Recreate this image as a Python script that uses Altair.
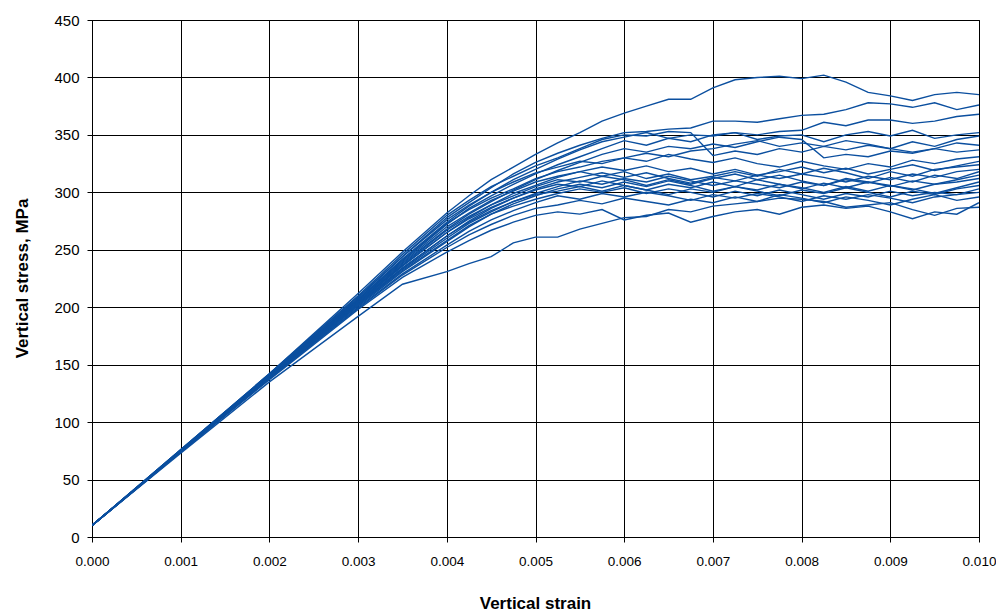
import altair as alt
import pandas as pd

strain = [0.0, 0.001, 0.002, 0.003, 0.0035, 0.004, 0.00425, 0.0045, 0.00475, 0.005,
          0.00525, 0.0055, 0.00575, 0.006, 0.00625, 0.0065, 0.00675, 0.007, 0.00725, 0.0075,
          0.00775, 0.008, 0.00825, 0.0085, 0.00875, 0.009, 0.00925, 0.0095, 0.00975, 0.010]

cA = [10, 76, 142, 212, 248, 282, 297, 311, 322, 333, 343, 352, 362, 369, 375, 381, 381, 391, 398, 400, 401, 399, 402, 396, 387, 384, 380, 385, 387, 385]
cB = [10, 75, 141, 208, 244, 278, 291, 304, 316, 326, 334, 341, 347, 352, 353, 355, 356, 362, 362, 361, 364, 367, 368, 372, 378, 377, 374, 378, 372, 376]
cC = [10, 76, 141, 207, 242, 274, 288, 300, 311, 320, 329, 337, 344, 348, 352, 347, 350, 349, 352, 350, 353, 354, 361, 358, 363, 363, 360, 362, 366, 368]
cD = [10, 75, 140, 206, 240, 272, 286, 297, 307, 316, 324, 331, 338, 345, 341, 347, 344, 350, 352, 346, 349, 350, 344, 350, 353, 349, 354, 347, 350, 352]
cE = [10, 76, 142, 210, 246, 280, 293, 305, 314, 323, 330, 338, 346, 350, 349, 353, 352, 332, 336, 333, 338, 335, 340, 337, 341, 338, 344, 340, 346, 349]
cF = [10, 75, 140, 205, 238, 268, 281, 292, 302, 311, 319, 326, 333, 338, 335, 340, 338, 342, 339, 344, 348, 346, 330, 333, 331, 336, 334, 338, 335, 337]
cG = [10, 75, 141, 207, 241, 273, 285, 295, 303, 312, 318, 322, 327, 330, 334, 331, 336, 338, 342, 345, 340, 343, 340, 345, 342, 338, 335, 338, 343, 341]
cH = [10, 76, 142, 209, 244, 276, 289, 300, 309, 317, 322, 327, 325, 330, 327, 333, 329, 326, 330, 325, 322, 327, 323, 320, 325, 322, 328, 325, 329, 331]
cI = [10, 75, 140, 204, 236, 265, 278, 289, 299, 306, 313, 318, 322, 319, 323, 318, 321, 316, 320, 315, 318, 322, 317, 321, 316, 320, 324, 319, 323, 327]
cJ = [10, 75, 141, 206, 239, 270, 282, 293, 301, 309, 314, 318, 314, 318, 312, 316, 311, 314, 318, 314, 320, 316, 321, 317, 312, 318, 314, 320, 322, 324]
cK = [10, 74, 139, 203, 234, 262, 275, 286, 295, 303, 309, 313, 317, 313, 317, 312, 308, 313, 310, 315, 312, 316, 313, 309, 314, 311, 316, 313, 318, 320]
cL = [10, 75, 140, 205, 237, 267, 279, 289, 297, 305, 311, 309, 314, 311, 306, 311, 307, 312, 316, 311, 315, 310, 306, 311, 308, 313, 309, 315, 312, 318]
cM = [10, 74, 139, 202, 233, 260, 273, 283, 292, 299, 305, 310, 307, 312, 309, 314, 310, 306, 310, 307, 304, 309, 306, 312, 309, 305, 310, 307, 311, 315]
cN = [10, 75, 140, 204, 236, 265, 277, 287, 295, 302, 307, 305, 310, 306, 302, 307, 304, 309, 305, 311, 307, 303, 308, 304, 309, 306, 302, 307, 309, 312]
cO = [10, 74, 138, 201, 231, 257, 270, 281, 290, 297, 303, 307, 304, 309, 305, 310, 306, 301, 305, 302, 307, 304, 300, 305, 301, 306, 303, 299, 304, 309]
cP = [10, 74, 139, 203, 234, 262, 274, 284, 292, 298, 301, 305, 301, 306, 302, 298, 303, 300, 305, 301, 297, 302, 299, 304, 300, 296, 301, 298, 303, 306]
cQ = [10, 75, 139, 202, 232, 258, 271, 281, 288, 294, 299, 303, 300, 304, 299, 303, 300, 296, 301, 297, 302, 298, 294, 299, 296, 301, 297, 300, 298, 303]
cR = [10, 74, 138, 200, 229, 254, 266, 276, 284, 291, 297, 294, 299, 296, 300, 297, 293, 298, 295, 299, 296, 292, 297, 294, 298, 295, 291, 296, 298, 300]
cS = [10, 74, 138, 199, 228, 252, 263, 272, 280, 286, 289, 293, 290, 295, 292, 289, 294, 291, 296, 292, 298, 295, 291, 296, 293, 289, 294, 298, 293, 296]
cT = [10, 74, 137, 198, 226, 248, 258, 267, 274, 280, 283, 281, 285, 276, 280, 282, 274, 279, 283, 285, 281, 287, 289, 286, 288, 283, 277, 283, 281, 291]
cU = [10, 73, 135, 192, 220, 231, 238, 244, 256, 261, 261, 268, 273, 278, 279, 285, 283, 288, 290, 292, 295, 294, 292, 287, 289, 291, 285, 280, 286, 287]

curves = {"A": cA, "B": cB, "C": cC, "D": cD, "E": cE, "F": cF, "G": cG, "H": cH,
          "I": cI, "J": cJ, "K": cK, "L": cL, "M": cM, "N": cN, "O": cO, "P": cP,
          "Q": cQ, "R": cR, "S": cS, "T": cT, "U": cU}

rows = []
for name, vals in curves.items():
    for x, y in zip(strain, vals):
        rows.append({"curve": name, "strain": x, "stress": y})
df = pd.DataFrame(rows)

FONT = "Liberation Sans"
x_ticks = [0, 0.001, 0.002, 0.003, 0.004, 0.005, 0.006, 0.007, 0.008, 0.009, 0.010]
y_ticks = list(range(0, 451, 50))

common = dict(
    grid=True, gridColor="#000000", gridWidth=1, gridOpacity=1,
    domainColor="#000000", domainWidth=1,
    tickColor="#000000", tickSize=5, tickWidth=1,
    labelFont=FONT, labelColor="#000000", labelFlush=False,
    titleFont=FONT, titleFontSize=17, titleFontWeight="bold", titleColor="#000000",
)

chart = alt.Chart(df).mark_line(color="#0B4F9F", strokeWidth=1.4, clip=True).encode(
    x=alt.X("strain:Q",
            scale=alt.Scale(domain=[0, 0.010], nice=False, zero=False),
            axis=alt.Axis(title="Vertical strain", format=".3f", values=x_ticks,
                          labelFontSize=13.5, labelPadding=12, titleX=443, titleY=66,
                          titleBaseline="middle", titleAlign="center", **common)),
    y=alt.Y("stress:Q",
            scale=alt.Scale(domain=[0, 450], nice=False),
            axis=alt.Axis(title="Vertical stress, MPa", values=y_ticks,
                          labelFontSize=15, labelPadding=8, titleX=-70, titleY=258,
                          titleBaseline="middle", titleAlign="center", titleAngle=270,
                          **common)),
    detail="curve:N",
).properties(
    width=887, height=517,
    background="white",
    autosize=alt.AutoSizeParams(type="none"),
    padding={"left": 92, "top": 20, "right": 17, "bottom": 78},
).configure_view(
    stroke="#000000", strokeWidth=1
)

chart.save("out.html", embed_options={"renderer": "svg", "actions": False})
